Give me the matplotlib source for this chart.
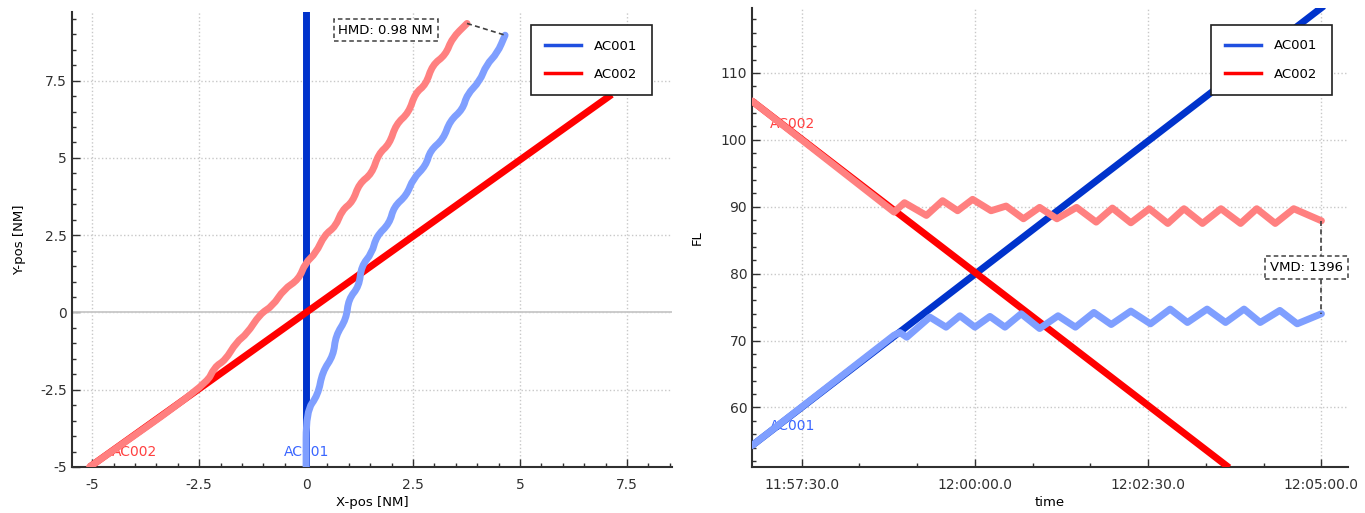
import matplotlib
matplotlib.use("Agg")
import matplotlib.pyplot as plt
from matplotlib.ticker import MultipleLocator, FuncFormatter, FixedLocator
from matplotlib.path import Path
from matplotlib.patches import PathPatch

plt.rcParams['font.family'] = ['DejaVu Sans']
plt.rcParams['font.size'] = 9

# --- horizontal view (NM) ---
ac001_plan_x = [0.0, 0.0]
ac001_plan_y = [-5.0, 9.8]
ac002_plan_x = [-5.06, 7.14]
ac002_plan_y = [-5.0, 7.05]

ac001_act_x = [0.0, 0.0, 0.28, 0.38, 0.64, 0.69, 0.94, 0.99, 1.24, 1.29, 1.54, 1.64, 1.95,
               2.05, 2.35, 2.50, 2.80, 2.90, 3.21, 3.36, 3.66, 3.76, 4.06, 4.21, 4.47, 4.65]
ac001_act_y = [-5.0, -3.2, -2.67, -1.92, -1.39, -0.75, -0.21, 0.43, 0.85, 1.50, 1.92, 2.46, 2.88,
               3.42, 3.79, 4.33, 4.75, 5.24, 5.61, 6.20, 6.57, 7.05, 7.48, 8.01, 8.39, 8.97]
ac002_act_x = [-5.06, -2.34, -2.14, -1.89, -1.63, -1.38, -1.08, -0.78, -0.52, -0.17, -0.02, 0.23,
               0.43, 0.69, 0.84, 1.09, 1.24, 1.54, 1.69, 1.95, 2.10, 2.40, 2.55, 2.80, 2.95,
               3.26, 3.41, 3.76]
ac002_act_y = [-5.0, -2.35, -1.76, -1.55, -0.96, -0.69, -0.05, 0.21, 0.75, 1.07, 1.60, 1.92,
               2.51, 2.78, 3.31, 3.58, 4.17, 4.49, 5.13, 5.45, 6.09, 6.46, 7.10, 7.37, 8.01,
               8.33, 8.87, 9.35]

# --- vertical view (FL vs time) ---
v_ac001_plan_t = ["11:56:47", "12:05:02"]
v_ac001_plan_fl = [54.3, 120.0]
v_ac002_plan_t = ["11:56:47", "12:03:40"]
v_ac002_plan_fl = [105.8, 51.0]

v_ac001_act_t = ["11:56:47", "11:58:50", "11:58:55", "11:59:01", "11:59:21", "11:59:35",
                 "11:59:47", "12:00:00", "12:00:13", "12:00:26", "12:00:40", "12:00:56",
                 "12:01:12", "12:01:27", "12:01:43", "12:01:58", "12:02:15", "12:02:32",
                 "12:02:49", "12:03:04", "12:03:21", "12:03:37", "12:03:53", "12:04:07",
                 "12:04:24", "12:04:39", "12:05:00"]
v_ac001_act_fl = [54.3, 70.8, 71.2, 70.5, 73.5, 72.0, 73.7, 72.0, 73.6, 72.0, 74.0, 71.8,
                  73.7, 72.0, 74.2, 72.4, 74.4, 72.5, 74.7, 72.7, 74.7, 72.7, 74.7, 72.7,
                  74.5, 72.5, 74.0]
v_ac002_act_t = ["11:56:47", "11:58:50", "11:58:59", "11:59:18", "11:59:32", "11:59:45",
                 "11:59:58", "12:00:14", "12:00:27", "12:00:42", "12:00:56", "12:01:11",
                 "12:01:28", "12:01:45", "12:01:59", "12:02:15", "12:02:31", "12:02:47",
                 "12:03:01", "12:03:17", "12:03:33", "12:03:50", "12:04:04", "12:04:20",
                 "12:04:36", "12:05:00"]
v_ac002_act_fl = [105.8, 89.2, 90.6, 88.7, 90.9, 89.4, 91.1, 89.4, 90.1, 88.2, 89.9, 88.2,
                  89.9, 87.7, 89.8, 87.6, 89.7, 87.5, 89.7, 87.5, 89.7, 87.5, 89.7, 87.5,
                  89.7, 87.9]

time_ticks = ["11:57:30", "12:00:00", "12:02:30", "12:05:00"]
time_lim = ["11:56:47", "12:05:23"]


def secs(s):
    h, m, sec = s.split(":")
    return int(h) * 3600 + int(m) * 60 + float(sec)


def tfmt(v, pos=None):
    v = int(round(v))
    return "%02d:%02d:%02d.0" % (v // 3600, (v % 3600) // 60, v % 60)


def wavy(xs, ys):
    # quadratic bezier through the read corner points -> smooth wiggle
    pts = list(zip(xs, ys))
    mid = lambda a, b: ((a[0] + b[0]) / 2, (a[1] + b[1]) / 2)
    verts = [pts[0], mid(pts[0], pts[1])]
    codes = [Path.MOVETO, Path.LINETO]
    for i in range(1, len(pts) - 1):
        verts += [pts[i], mid(pts[i], pts[i + 1])]
        codes += [Path.CURVE3, Path.CURVE3]
    verts.append(pts[-1])
    codes.append(Path.LINETO)
    return Path(verts, codes)


DARK_BLUE = '#0033cc'
LIGHT_BLUE = '#7f9fff'
DARK_RED = '#ff0000'
LIGHT_RED = '#ff8080'
LW = 5
TICK_FS = 10

fig = plt.figure(figsize=(13.65, 5.13), dpi=100)
ax1 = fig.add_axes([72 / 1365, 46 / 513, 600 / 1365, 455 / 513])
ax2 = fig.add_axes([752 / 1365, 46 / 513, 596 / 1365, 459 / 513])


def style(ax):
    for s in ['top', 'right']:
        ax.spines[s].set_visible(False)
    for s in ['left', 'bottom']:
        ax.spines[s].set_color('#303030')
        ax.spines[s].set_linewidth(1.5)
    ax.grid(True, which='major', linestyle=':', color='#c8c8c8', linewidth=1)
    ax.tick_params(which='major', direction='in', length=6, width=1, labelsize=TICK_FS, colors='#303030')
    ax.tick_params(which='minor', direction='in', length=3, width=1, colors='#303030')
    ax.tick_params(axis='x', pad=8)
    ax.set_axisbelow(True)


def add_legend(ax, anchor):
    a, = ax.plot([], [], color='#1f4fe0', lw=2.5, label="AC001")
    b, = ax.plot([], [], color=DARK_RED, lw=2.5, label="AC002")
    lg = ax.legend(handles=[a, b], loc='upper right', bbox_to_anchor=anchor,
                   borderaxespad=0, fancybox=False, edgecolor='#202020', framealpha=1,
                   fontsize=9.5, handlelength=2.7, labelspacing=1.15, borderpad=1.1,
                   handletextpad=1.0)
    lg.get_frame().set_linewidth(1.2)


# left: horizontal
style(ax1)
ax1.axhline(0, color='#c8c8c8', linewidth=1.3, zorder=1)
ax1.text(-4.0, -4.5, "AC002", color='#ff4040', ha='center', va='center', fontsize=10, zorder=2)
ax1.text(0.0, -4.5, "AC001", color='#3a66ff', ha='center', va='center', fontsize=10, zorder=2)
ax1.plot(ac001_plan_x, ac001_plan_y, color=DARK_BLUE, lw=LW, solid_capstyle='butt', zorder=3)
ax1.plot(ac002_plan_x, ac002_plan_y, color=DARK_RED, lw=LW, solid_capstyle='butt', zorder=3)
for xs, ys, c in [(ac001_act_x, ac001_act_y, LIGHT_BLUE), (ac002_act_x, ac002_act_y, LIGHT_RED)]:
    ax1.add_patch(PathPatch(wavy(xs, ys), facecolor='none', edgecolor=c, lw=LW,
                            capstyle='round', joinstyle='round', zorder=4))
ax1.plot([ac002_act_x[-1], ac001_act_x[-1]], [ac002_act_y[-1], ac001_act_y[-1]],
         color='#404040', lw=1.2, linestyle=(0, (3, 2)), zorder=5)
ax1.text(1.86, 9.13, "HMD: 0.98 NM", ha='center', va='center', fontsize=9.5, zorder=6,
         bbox=dict(boxstyle='square,pad=0.35', facecolor='white', edgecolor='#404040',
                   linestyle=(0, (3, 2)), linewidth=1.1))
ax1.set_xlim(-5.47, 8.55)
ax1.set_ylim(-5.0, 9.72)
ax1.xaxis.set_major_locator(MultipleLocator(2.5))
ax1.yaxis.set_major_locator(MultipleLocator(2.5))
ax1.xaxis.set_minor_locator(MultipleLocator(0.5))
ax1.yaxis.set_minor_locator(MultipleLocator(0.5))
ax1.xaxis.set_major_formatter(FuncFormatter(lambda v, p: "%g" % v))
ax1.yaxis.set_major_formatter(FuncFormatter(lambda v, p: "%g" % v))
ax1.set_xlabel("X-pos [NM]", fontsize=9.5, labelpad=3)
ax1.set_ylabel("Y-pos [NM]", fontsize=9.5, labelpad=10)
add_legend(ax1, (0.967, 0.971))

# right: vertical
style(ax2)
ax2.text(secs("11:57:22"), 102.4, "AC002", color='#ff4040', ha='center', va='center', fontsize=10, zorder=2)
ax2.text(secs("11:57:22"), 57.3, "AC001", color='#3a66ff', ha='center', va='center', fontsize=10, zorder=2)
ax2.plot([secs(t) for t in v_ac001_plan_t], v_ac001_plan_fl, color=DARK_BLUE, lw=LW,
         solid_capstyle='butt', zorder=3)
ax2.plot([secs(t) for t in v_ac002_plan_t], v_ac002_plan_fl, color=DARK_RED, lw=LW,
         solid_capstyle='butt', zorder=3)
ax2.plot([secs(t) for t in v_ac001_act_t], v_ac001_act_fl, color=LIGHT_BLUE, lw=LW,
         solid_capstyle='round', solid_joinstyle='round', zorder=4)
ax2.plot([secs(t) for t in v_ac002_act_t], v_ac002_act_fl, color=LIGHT_RED, lw=LW,
         solid_capstyle='round', solid_joinstyle='round', zorder=4)
t_end = secs(v_ac001_act_t[-1])
ax2.plot([t_end, t_end], [v_ac002_act_fl[-1], v_ac001_act_fl[-1]], color='#404040', lw=1.2,
         linestyle=(0, (3, 2)), zorder=5)
ax2.text(secs("12:04:47"), 80.9, "VMD: 1396", ha='center', va='center', fontsize=9.5, zorder=6,
         clip_on=False,
         bbox=dict(boxstyle='square,pad=0.35', facecolor='white', edgecolor='#404040',
                   linestyle=(0, (3, 2)), linewidth=1.1))
ax2.set_xlim(secs(time_lim[0]), secs(time_lim[1]))
ax2.set_ylim(51.1, 119.7)
ax2.xaxis.set_major_locator(FixedLocator([secs(t) for t in time_ticks]))
ax2.xaxis.set_minor_locator(MultipleLocator(50))
ax2.xaxis.set_major_formatter(FuncFormatter(tfmt))
ax2.yaxis.set_major_locator(MultipleLocator(10))
ax2.yaxis.set_minor_locator(MultipleLocator(2))
ax2.set_xlabel("time", fontsize=9.5, labelpad=3)
ax2.set_ylabel("FL", fontsize=9.5, labelpad=12)
add_legend(ax2, (0.973, 0.963))

fig.savefig("out.png", dpi=100)
